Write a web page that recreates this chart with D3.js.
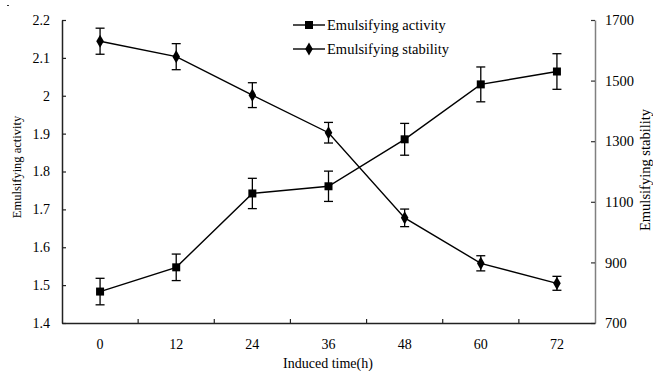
<!DOCTYPE html>
<html>
<head>
<meta charset="utf-8">
<script src="https://cdn.jsdelivr.net/npm/d3@7/dist/d3.min.js"></script>
<style>
  html, body { margin: 0; padding: 0; background: #fff; }
  svg { display: block; }
</style>
</head>
<body>
<svg id="chart" width="653" height="371"></svg>
<script>
// Induced time categories (h)
const times = ["0", "12", "24", "36", "48", "60", "72"];

// Emulsifying activity (left axis) with error half-widths
const activity = [1.483, 1.547, 1.742, 1.761, 1.885, 2.030, 2.064];
const activityErr = [0.035, 0.035, 0.040, 0.040, 0.042, 0.046, 0.047];

// Emulsifying stability (right axis) with error half-widths
const stability = [1630, 1579, 1452, 1328, 1047, 897, 831];
const stabilityErr = [43, 43, 41, 34, 29, 25, 23];

// Axis tick values and labels
const leftTicks = [1.4, 1.5, 1.6, 1.7, 1.8, 1.9, 2.0, 2.1, 2.2];
const leftTickLabels = ["1.4", "1.5", "1.6", "1.7", "1.8", "1.9", "2", "2.1", "2.2"];
const rightTicks = [700, 900, 1100, 1300, 1500, 1700];

const seriesNames = ["Emulsifying activity", "Emulsifying stability"];

const FONT = '"Liberation Serif", "Times New Roman", serif';

const svg = d3.select("#chart");
const plot = { left: 62, right: 595, top: 20, bottom: 323 };

const x = d3.scaleBand().domain(times).range([plot.left, plot.right]).padding(0);
const yL = d3.scaleLinear().domain([1.4, 2.2]).range([plot.bottom, plot.top]);
const yR = d3.scaleLinear().domain([700, 1700]).range([plot.bottom, plot.top]);
const cx = t => x(t) + x.bandwidth() / 2;

// Left axis
const leftAxis = svg.append("g")
  .attr("transform", `translate(${plot.left},0)`)
  .call(d3.axisLeft(yL).tickValues(leftTicks)
    .tickFormat((d, i) => leftTickLabels[i]).tickSizeInner(-4).tickSizeOuter(0).tickPadding(12));
leftAxis.attr("font-family", FONT);
leftAxis.select(".domain").attr("stroke", "#222").attr("stroke-width", 1.5);
leftAxis.selectAll(".tick line").attr("stroke", "#222").attr("stroke-width", 1.2);
leftAxis.selectAll(".tick text").style("font-size", "14px").style("font-family", FONT).attr("fill", "#000");

// Right axis
const rightAxis = svg.append("g")
  .attr("transform", `translate(${plot.right},0)`)
  .call(d3.axisRight(yR).tickValues(rightTicks).tickFormat(d3.format("d"))
    .tickSizeInner(-4).tickSizeOuter(0).tickPadding(10));
rightAxis.attr("font-family", FONT);
rightAxis.select(".domain").attr("stroke", "#808080").attr("stroke-width", 1.5);
rightAxis.selectAll(".tick line").attr("stroke", "#333").attr("stroke-width", 1.2);
rightAxis.selectAll(".tick text").style("font-size", "14.5px").style("font-family", FONT).attr("fill", "#000");

// Bottom axis: ticks at category boundaries, labels at centres
const bottomAxis = svg.append("g")
  .attr("transform", `translate(0,${plot.bottom})`)
  .call(d3.axisBottom(x).tickSize(0).tickPadding(16));
bottomAxis.attr("font-family", FONT);
bottomAxis.select(".domain").attr("stroke", "#222").attr("stroke-width", 1.5);
bottomAxis.selectAll(".tick text").style("font-size", "14px").style("font-family", FONT).attr("fill", "#000");
svg.append("g").selectAll("line")
  .data(times.slice(1))
  .join("line")
  .attr("x1", d => x(d)).attr("x2", d => x(d))
  .attr("y1", plot.bottom).attr("y2", plot.bottom - 4)
  .attr("stroke", "#222").attr("stroke-width", 1.2);

// Axis titles
svg.append("text")
  .attr("transform", `translate(21,167) rotate(-90)`)
  .attr("text-anchor", "middle")
  .style("font-family", FONT).style("font-size", "12.5px")
  .text("Emulsifying activity");
svg.append("text")
  .attr("transform", `translate(650,170) rotate(-90)`)
  .attr("text-anchor", "middle")
  .style("font-family", FONT).style("font-size", "14.5px")
  .text("Emulsifying stability");
svg.append("text")
  .attr("x", 328).attr("y", 368)
  .attr("text-anchor", "middle")
  .style("font-family", FONT).style("font-size", "14px")
  .text("Induced time(h)");

// Small mark in the corner
svg.append("rect").attr("x", 7).attr("y", 5).attr("width", 2).attr("height", 1).attr("fill", "#333");

const line = d3.line();
const diamond = d3.symbol().type(d3.symbolDiamond).size(50);

function drawSeries(values, errs, scale, markerType) {
  const g = svg.append("g");
  g.append("path")
    .attr("d", line(values.map((v, i) => [cx(times[i]), scale(v)])))
    .attr("fill", "none").attr("stroke", "#000").attr("stroke-width", 1.4);
  const eb = g.append("g").selectAll("g")
    .data(values.map((v, i) => ({ t: times[i], v, e: errs[i] })))
    .join("g");
  eb.append("line")
    .attr("x1", d => cx(d.t)).attr("x2", d => cx(d.t))
    .attr("y1", d => scale(d.v - d.e)).attr("y2", d => scale(d.v + d.e))
    .attr("stroke", "#000").attr("stroke-width", 1.3);
  [1, -1].forEach(s => {
    eb.append("line")
      .attr("x1", d => cx(d.t) - 4.5).attr("x2", d => cx(d.t) + 4.5)
      .attr("y1", d => scale(d.v + s * d.e)).attr("y2", d => scale(d.v + s * d.e))
      .attr("stroke", "#000").attr("stroke-width", 1.3);
  });
  if (markerType === "square") {
    g.append("g").selectAll("rect")
      .data(values.map((v, i) => ({ t: times[i], v })))
      .join("rect")
      .attr("x", d => cx(d.t) - 4).attr("y", d => scale(d.v) - 4)
      .attr("width", 8).attr("height", 8).attr("fill", "#000");
  } else {
    g.append("g").selectAll("path")
      .data(values.map((v, i) => ({ t: times[i], v })))
      .join("path")
      .attr("d", diamond)
      .attr("transform", d => `translate(${cx(d.t)},${scale(d.v)})`)
      .attr("fill", "#000");
  }
}

drawSeries(activity, activityErr, yL, "square");
drawSeries(stability, stabilityErr, yR, "diamond");

// Legend
const legend = svg.append("g");
const legendRows = [25, 49];
seriesNames.forEach((name, i) => {
  const y = legendRows[i];
  legend.append("line").attr("x1", 293).attr("x2", 325).attr("y1", y).attr("y2", y)
    .attr("stroke", "#000").attr("stroke-width", 1.4);
  if (i === 0) {
    legend.append("rect").attr("x", 305).attr("y", y - 4).attr("width", 8).attr("height", 8).attr("fill", "#000");
  } else {
    legend.append("path").attr("d", diamond).attr("transform", `translate(309,${y})`).attr("fill", "#000");
  }
  legend.append("text").attr("x", 327).attr("y", y + 5)
    .style("font-family", FONT).style("font-size", "14.5px").text(name);
});
</script>
</body>
</html>
